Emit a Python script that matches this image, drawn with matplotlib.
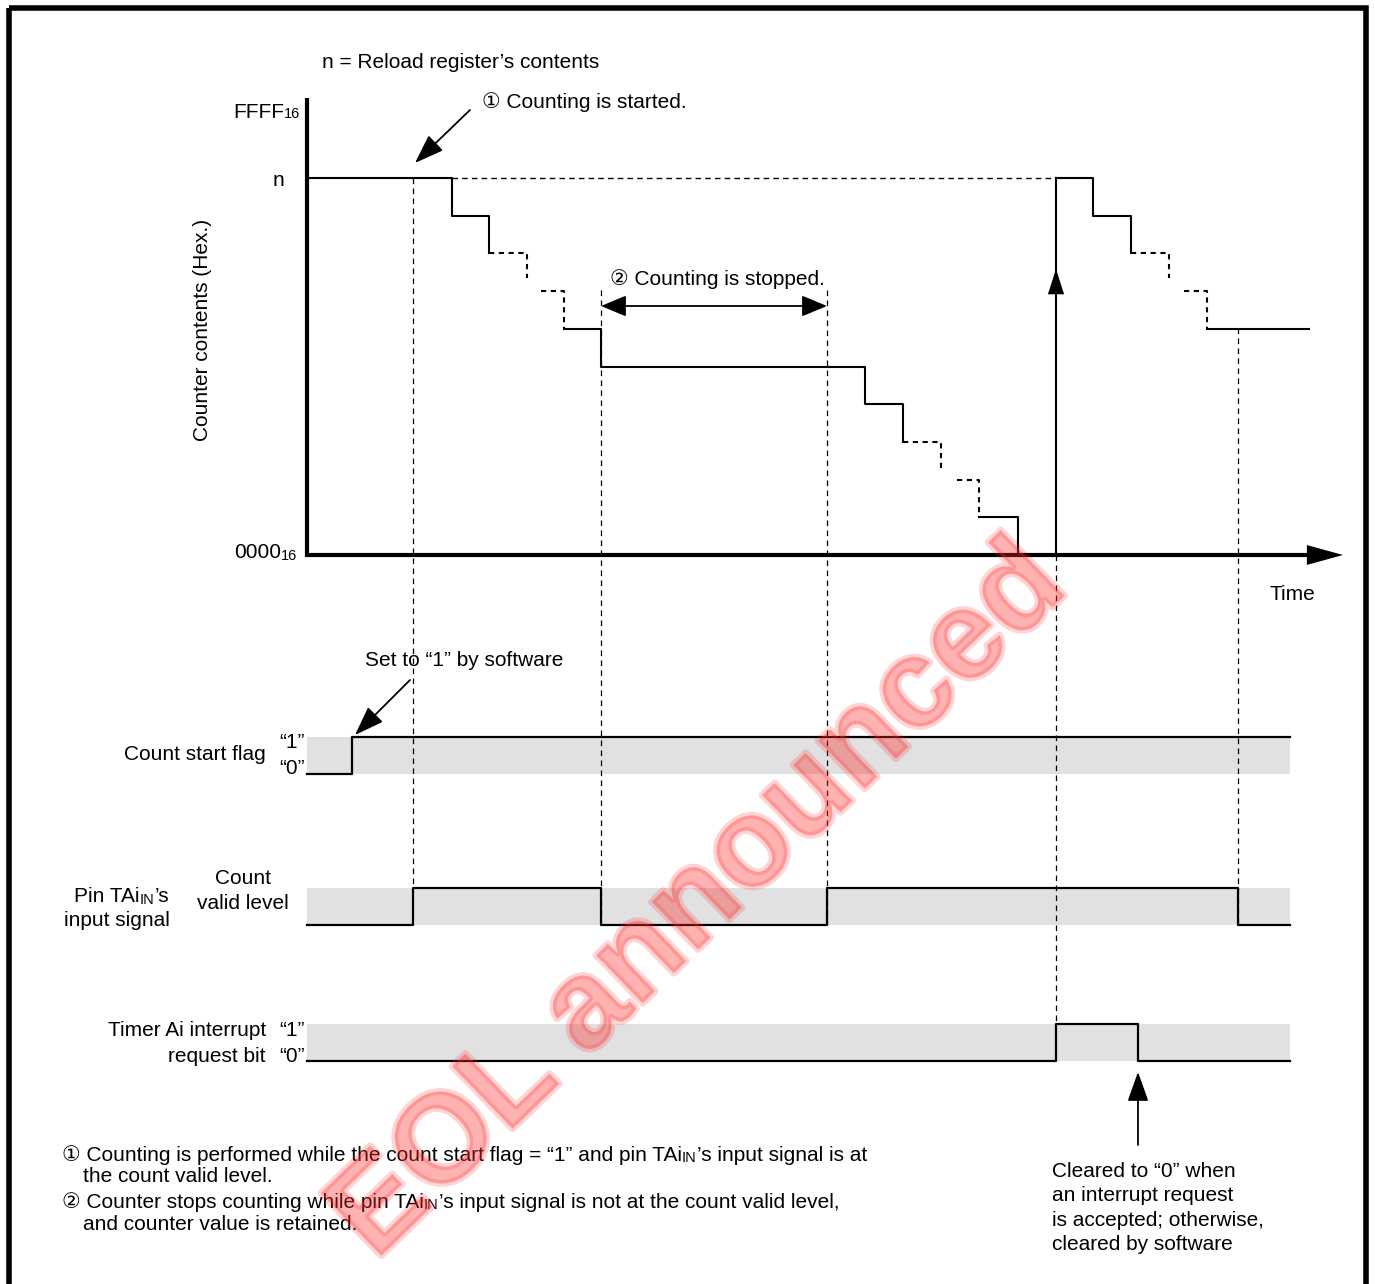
import matplotlib
matplotlib.use("Agg")
import matplotlib.pyplot as plt
from matplotlib.patches import Rectangle
import matplotlib.patheffects as pe

plt.rcParams['font.family'] = ['Liberation Sans', 'DejaVu Sans', 'Noto Sans CJK JP']

W, H = 1375, 1284
FS = 15

# time positions (page pixels) shared by every row
T_START, T_END = 307, 1290

# counter contents in count steps (n = 10, FFFF16 sits above it)
N_LEVEL = 10
COUNT_Y0, COUNT_STEP = 555, 37.7

# counter trace, split into solid and dashed runs: (times, counts, dashed)
counter_runs = [
    ([307, 452, 452, 489, 489], [10, 10, 9, 9, 8], False),
    ([489, 527, 527], [8, 8, 7.35], True),
    ([541, 564, 564], [7, 7, 6], True),
    ([564, 601, 601, 865, 865, 903, 903], [6, 6, 5, 5, 4, 4, 3], False),
    ([903, 941, 941], [3, 3, 2.25], True),
    ([957, 979, 979], [2, 2, 1], True),
    ([979, 1018, 1018], [1, 1, 0], False),
    ([1056, 1093, 1093, 1131, 1131], [10, 10, 9, 9, 8], False),
    ([1131, 1169, 1169], [8, 8, 7.35], True),
    ([1184, 1207, 1207], [7, 7, 6], True),
    ([1207, 1309], [6, 6], False),
]
reload_t = 1056
n_dash_t = [452, 1056]

# digital signals: edge times and level after each edge
flag_t = [307, 352, 1290]
flag_v = [0, 1, 1]
pin_t = [307, 413, 601, 827, 1238, 1290]
pin_v = [0, 1, 0, 1, 0, 0]
irq_t = [307, 1056, 1138, 1290]
irq_v = [0, 1, 0, 0]

# row bands (top, bottom) in page pixels
flag_band = (737, 774)
pin_band = (888, 925)
irq_band = (1024, 1061)

# dashed guide lines: (time, top, bottom)
guides = [(413, 178, 888), (601, 290, 925), (827, 290, 925),
          (1056, 555, 1024), (1238, 328, 925)]


def cy(v):
    return COUNT_Y0 - v * COUNT_STEP


fig = plt.figure(figsize=(W / 100, H / 100), dpi=100)
ax = fig.add_axes([0, 0, 1, 1])
ax.set_xlim(0, W)
ax.set_ylim(H, 0)
ax.axis('off')

# frame
ax.add_patch(Rectangle((9.5, 8), 1357, 1290, fill=False, lw=4, ec='black'))

# counter chart axes
ax.plot([307, 307], [98, 557], color='black', lw=3, solid_capstyle='butt')
ax.plot([305, 1310], [555, 555], color='black', lw=3, solid_capstyle='butt')
ax.annotate('', xy=(1343, 555), xytext=(1300, 555),
            arrowprops=dict(arrowstyle='-|>,head_length=2.0,head_width=0.55',
                            mutation_scale=13, color='black', lw=0, shrinkA=0, shrinkB=0))

for ts, vs, dashed in counter_runs:
    if dashed:
        ax.plot(ts, [cy(v) for v in vs], color='black', lw=1.5, linestyle=(0, (2.5, 2.2)))
    else:
        ax.plot(ts, [cy(v) for v in vs], color='black', lw=1.5)

# reload: vertical line with up arrow in the middle
ax.plot([reload_t, reload_t], [cy(0), cy(N_LEVEL)], color='black', lw=1.5)
ax.annotate('', xy=(reload_t, 269), xytext=(reload_t, 300),
            arrowprops=dict(arrowstyle='-|>,head_length=1.4,head_width=0.45',
                            mutation_scale=13, color='black', lw=0, shrinkA=0, shrinkB=0))
ax.plot(n_dash_t, [cy(N_LEVEL)] * 2, color='black', lw=1, linestyle=(0, (4, 3)))

for t, top, bot in guides:
    ax.plot([t, t], [top, bot], color='black', lw=0.9, linestyle=(0, (4.5, 3.5)))

# signal rows
for band, ts, vs in [(flag_band, flag_t, flag_v), (pin_band, pin_t, pin_v),
                     (irq_band, irq_t, irq_v)]:
    top, bot = band
    ax.add_patch(Rectangle((T_START, top), T_END - T_START, bot - top,
                           fc='#e1e1e1', ec='none', zorder=0))
    ax.plot(ts, [bot - v * (bot - top) for v in vs], color='black', lw=1.6,
            drawstyle='steps-post')


def arrow(tip, tail, hl=1.4, hw=0.5):
    ax.annotate('', xy=tip, xytext=tail,
                arrowprops=dict(arrowstyle='-|>,head_length=%s,head_width=%s' % (hl, hw),
                                mutation_scale=13, color='black', lw=1.3,
                                shrinkA=0, shrinkB=0))


arrow((415, 163), (470, 110))
arrow((355, 735), (410, 680))
arrow((1138, 1072), (1138, 1145))
ax.annotate('', xy=(601, 306), xytext=(827, 306),
            arrowprops=dict(arrowstyle='<|-|>,head_length=1.2,head_width=0.5',
                            mutation_scale=13, color='black', lw=1.3,
                            shrinkA=0, shrinkB=0))


def rich(x, y, parts, va='center'):
    prev = None
    for s, size, dy in parts:
        if prev is None:
            prev = ax.text(x, y, s, fontsize=size, ha='left', va=va)
        else:
            prev = ax.annotate(s, xy=(1, 0), xycoords=prev, xytext=(0, dy),
                               textcoords='offset points', fontsize=size,
                               ha='left', va='bottom')
    return prev


SM = 10.5
ax.text(322, 62, 'n = Reload register\u2019s contents', fontsize=FS, va='center')
ax.text(482, 102, '\u2460 Counting is started.', fontsize=FS, va='center')
rich(233, 112, [('FFFF', FS, 0), ('16', SM, 0)])
ax.text(284, 180, 'n', fontsize=FS, va='center', ha='right')
rich(234, 553, [('0000', FS, 0), ('16', SM, 0)])
ax.text(203, 330, 'Counter contents (Hex.)', fontsize=FS, rotation=90,
        va='center', ha='center')
ax.text(717, 279, '\u2461 Counting is stopped.', fontsize=FS, va='center', ha='center')
ax.text(1292, 595, 'Time', fontsize=FS, va='center', ha='center')
ax.text(365, 661, 'Set to \u201c1\u201d by software', fontsize=FS, va='center')

ax.text(266, 755, 'Count start flag', fontsize=FS, va='center', ha='right')
ax.text(305, 742, '\u201c1\u201d', fontsize=FS, va='center', ha='right')
ax.text(305, 768, '\u201c0\u201d', fontsize=FS, va='center', ha='right')

rich(74, 897, [('Pin TAi', FS, 0), ('IN', SM, 0), ('\u2019s', FS, 0)])
ax.text(170, 921, 'input signal', fontsize=FS, va='center', ha='right')
ax.text(243, 891, 'Count\nvalid level', fontsize=FS, va='center', ha='center',
        linespacing=1.35)

ax.text(266, 1031, 'Timer Ai interrupt', fontsize=FS, va='center', ha='right')
ax.text(266, 1056, 'request bit', fontsize=FS, va='center', ha='right')
ax.text(305, 1030, '\u201c1\u201d', fontsize=FS, va='center', ha='right')
ax.text(305, 1057, '\u201c0\u201d', fontsize=FS, va='center', ha='right')

rich(62, 1155, [('\u2460 Counting is performed while the count start flag = \u201c1\u201d and pin TAi', FS, 0),
                ('IN', SM, 0), ('\u2019s input signal is at', FS, 0)])
ax.text(83, 1177, 'the count valid level.', fontsize=FS, va='center')
rich(62, 1202, [('\u2461 Counter stops counting while pin TAi', FS, 0),
                ('IN', SM, 0), ('\u2019s input signal is not at the count valid level,', FS, 0)])
ax.text(83, 1225, 'and counter value is retained.', fontsize=FS, va='center')

ax.text(1052, 1208, 'Cleared to \u201c0\u201d when\nan interrupt request\nis accepted; otherwise,\ncleared by software',
        fontsize=FS, va='center', ha='left', linespacing=1.35)

# watermark
ax.text(700, 902, 'EOL announced', fontsize=91, fontweight='bold', color='#ff2a2a',
        alpha=0.2, rotation=44, ha='center', va='center', rotation_mode='anchor',
        path_effects=[pe.withStroke(linewidth=5, foreground='#ff2a2a')], zorder=10)

fig.savefig('out.png', dpi=100)
